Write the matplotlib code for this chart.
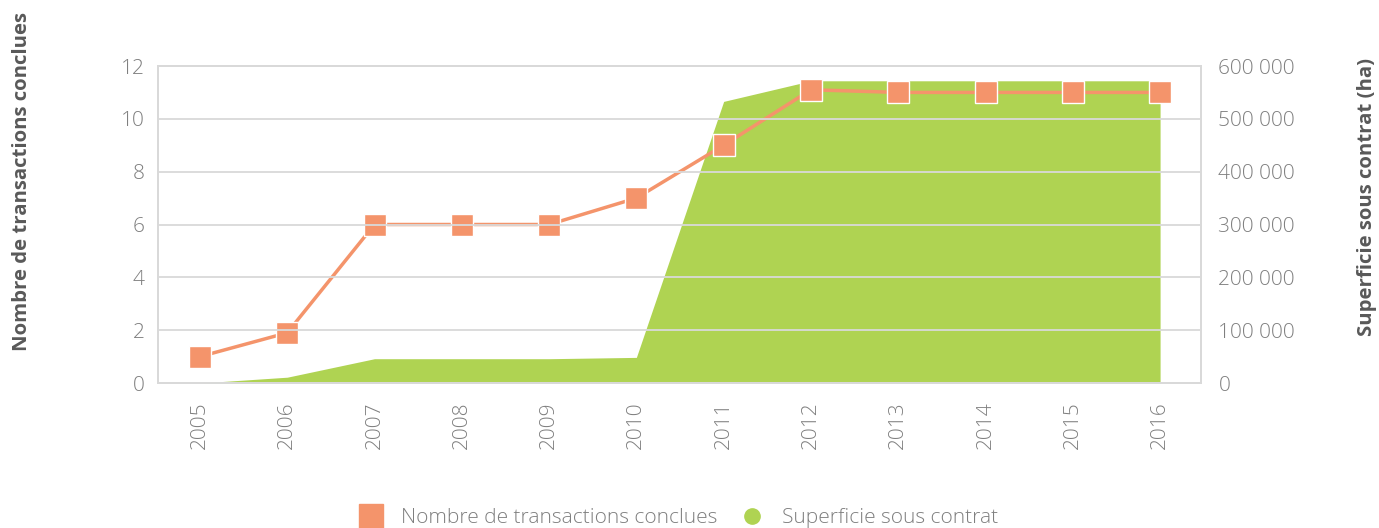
import matplotlib
matplotlib.use("Agg")
import matplotlib.pyplot as plt
from matplotlib.ticker import FuncFormatter
from matplotlib.lines import Line2D

plt.rcParams['font.family'] = ['Open Sans', 'DejaVu Sans']

years = ['2005', '2006', '2007', '2008', '2009', '2010',
         '2011', '2012', '2013', '2014', '2015', '2016']
transactions = [1, 1.9, 6, 6, 6, 7, 9, 11.1, 11, 11, 11, 11]
superficie = [0, 11000, 46000, 46000, 46000, 48500,
              533000, 572000, 572000, 572000, 572000, 572000]

orange = '#F4946B'
green = '#AFD352'
grid_c = '#D9D9D9'
txt_c = '#7F7F7F'
lab_c = '#595959'

fig = plt.figure(figsize=(13.79, 5.28), dpi=100)
ax1 = fig.add_axes([0.1146, 0.2746, 0.7564, 0.6004])
ax2 = ax1.twinx()

x = list(range(len(years)))

# area on the right axis, drawn behind
ax2.fill_between(x, superficie, 0, color=green, linewidth=0)
ax2.set_ylim(0, 600000)
ax2.set_yticks(range(0, 600001, 100000))
ax2.yaxis.set_major_formatter(FuncFormatter(lambda v, p: f"{int(v):,}".replace(',', ' ')))

ax1.set_zorder(ax2.get_zorder() + 1)
ax1.patch.set_visible(False)
ax1.plot(x, transactions, color=orange, lw=2.5, marker='s', markersize=16.5,
         markerfacecolor=orange, markeredgecolor='white', markeredgewidth=1)
ax1.set_ylim(0, 12)
ax1.set_yticks(range(0, 13, 2))
ax1.set_xlim(-0.48, 11.47)
ax1.set_xticks(x)
ax1.set_xticklabels(years, rotation=90)
ax1.yaxis.grid(True, color=grid_c, lw=1.3)
ax1.set_axisbelow(False)

for a in (ax1, ax2):
    for s in a.spines.values():
        s.set_color(grid_c)
        s.set_linewidth(1.3)
    a.tick_params(length=0, labelsize=15, labelcolor=txt_c)
ax1.tick_params(axis='y', pad=9.5)
ax1.tick_params(axis='x', pad=13)
ax2.tick_params(axis='y', pad=12.5)
for t in ax1.get_yticklabels() + ax2.get_yticklabels() + ax1.get_xticklabels():
    t.set_fontweight('light')

fig.text(0.016, 0.657, 'Nombre de transactions conclues', rotation=90,
         ha='center', va='center', fontsize=14.7, fontweight='bold', color=lab_c)
fig.text(0.991, 0.627, 'Superficie sous contrat (ha)', rotation=90,
         ha='center', va='center', fontsize=14.7, fontweight='bold', color=lab_c)

handles = [Line2D([], [], ls='none', marker='s', markersize=17, color=orange),
           Line2D([], [], ls='none', marker='o', markersize=11, color=green)]
leg = fig.legend(handles, ['Nombre de transactions conclues', 'Superficie sous contrat'],
                 loc='center', bbox_to_anchor=(0.489, 0.018), ncol=2, frameon=False,
                 fontsize=15, handletextpad=0.45, columnspacing=0.65)
for t in leg.get_texts():
    t.set_color(txt_c)
    t.set_fontweight('light')

fig.savefig('out.png', dpi=100)
